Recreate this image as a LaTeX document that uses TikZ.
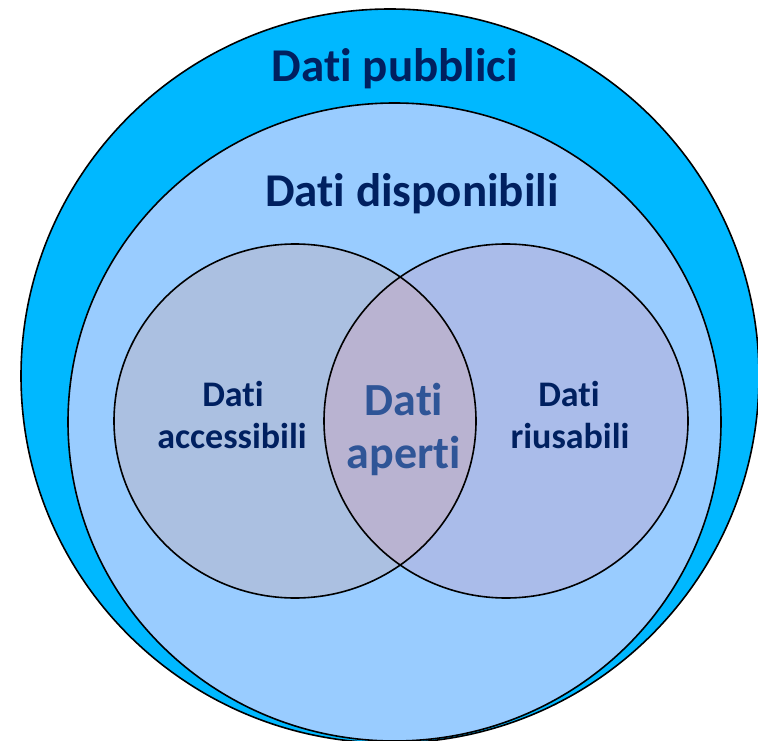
\documentclass[tikz,border=0pt]{standalone}
\usepackage{fontspec}
\setmainfont{Carlito}[Ligatures=NoCommon]
\definecolor{outerblue}{RGB}{0,184,255}
\definecolor{innerblue}{RGB}{153,204,255}
\definecolor{navy}{RGB}{0,32,96}
\definecolor{midblue}{RGB}{47,85,151}
\definecolor{tintA}{RGB}{255,140,90}
\definecolor{tintB}{RGB}{255,115,135}
\tikzset{
  ring/.style={draw=black,line width=1.6pt},
  bigtxt/.style={inner sep=0pt,anchor=base,text=navy,font=\fontsize{47}{56}\selectfont\bfseries},
  smalltxt/.style={inner sep=0pt,anchor=base,text=navy,font=\fontsize{36}{42}\selectfont\bfseries},
  opentxt/.style={inner sep=0pt,anchor=base,text=midblue,font=\fontsize{46}{53}\selectfont\bfseries}
}
\begin{document}
\begin{tikzpicture}[x=1pt,y=-1pt]
\useasboundingbox (0,0) rectangle (758,741);
% outer circle: Dati pubblici
\path[ring,fill=outerblue] (390,376) ellipse [x radius=369pt, y radius=367pt];
% inner circle: Dati disponibili
\path[ring,fill=innerblue] (394.5,422) ellipse [x radius=326.5pt, y radius=319pt];
% Venn circles fills
\fill[tintA,fill opacity=0.18] (295,421) ellipse [x radius=181pt, y radius=177pt];
\fill[tintB,fill opacity=0.17] (506,421) ellipse [x radius=182pt, y radius=177pt];
% Venn outlines
\draw[ring] (295,421) ellipse [x radius=181pt, y radius=177pt];
\draw[ring] (506,421) ellipse [x radius=182pt, y radius=177pt];
% labels
\node[bigtxt] (pub) at (395,82) {Dati pubblici};
\node[bigtxt] (disp) at (412,207) {Dati disponibili};
\node[smalltxt] (acc1) at (233,406) {Dati};
\node[smalltxt] (acc2) at (232,448) {accessibili};
\node[smalltxt] (riu1) at (569,406) {Dati};
\node[smalltxt] (riu2) at (570,448) {riusabili};
\node[opentxt] (ap1) at (404,415) {Dati};
\node[opentxt] (ap2) at (404,468) {aperti};
\end{tikzpicture}
\end{document}
